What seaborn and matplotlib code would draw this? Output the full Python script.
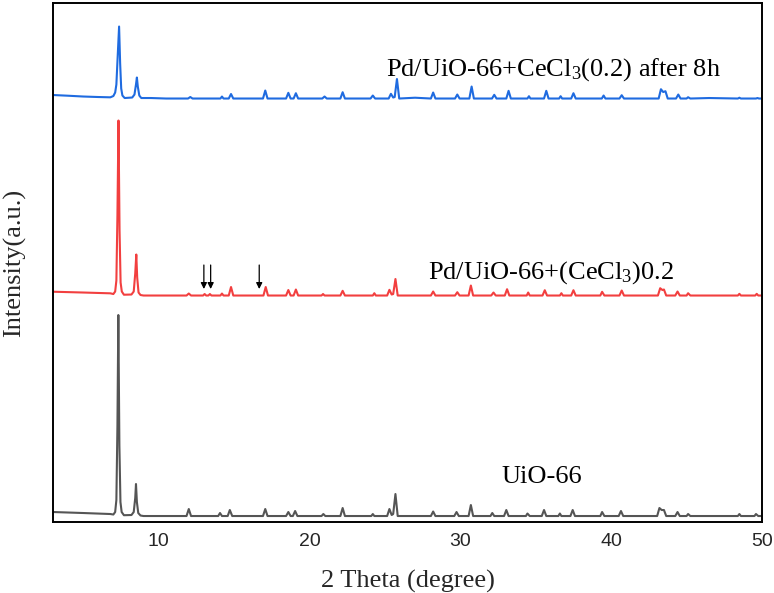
## XRD patterns, UiO-66 series, stacked with offsets
#   values

import matplotlib
matplotlib.use("Agg")
import matplotlib.pyplot as plt
from matplotlib.ticker import MultipleLocator
import seaborn as sns
import pandas as pd

    #----------------------------------------------------
    # DATA  (2theta in degree, intensity above own baseline, a.u.)
    #----------------------------------------------------

two_theta_uio = [3.0, 5.0, 6.8, 7.0, 7.12, 7.2, 7.27, 7.33, 7.4, 7.47, 7.55, 7.7,
                 8.2, 8.35, 8.45, 8.5, 8.56, 8.65, 8.8, 9.0,
                 11.85, 12.0, 12.15, 13.95, 14.07, 14.2, 14.58, 14.72, 14.88,
                 16.92, 17.07, 17.22, 18.45, 18.6, 18.75, 18.9, 19.05, 19.2,
                 20.8, 20.92, 21.05, 22.05, 22.2, 22.35, 24.1, 24.2, 24.3,
                 25.15, 25.3, 25.45, 25.55, 25.7, 25.85, 28.05, 28.2, 28.35,
                 29.6, 29.75, 29.9, 30.55, 30.7, 30.85, 32.0, 32.12, 32.25,
                 32.9, 33.05, 33.2, 34.35, 34.45, 34.6, 35.4, 35.55, 35.7,
                 36.5, 36.6, 36.7, 37.3, 37.45, 37.6, 39.28, 39.4, 39.55,
                 40.5, 40.65, 40.8, 43.05, 43.2, 43.35, 43.5, 43.65,
                 44.25, 44.4, 44.55, 45.0, 45.1, 45.25, 48.4, 48.5, 48.6,
                 49.5, 49.6, 49.75, 50.0]
intensity_uio = [4, 3, 2, 1.5, 4, 16, 90, 201, 70, 14, 4, 0.8,
                 1, 4, 18, 32, 14, 3, 0.5, 0,
                 0, 7, 0, 0, 3, 0, 0, 6, 0,
                 0, 7, 0, 0, 4, 0, 0, 5, 0,
                 0, 2, 0, 0, 8, 0, 0, 2, 0,
                 0, 7, 1, 2, 22, 0, 0, 4.5, 0,
                 0, 4, 0, 0, 11, 0, 0, 3, 0,
                 0, 6, 0, 0, 2.5, 0, 0, 6, 0,
                 0, 2.5, 0, 0, 6, 0, 0, 4, 0,
                 0, 5, 0, 0, 8, 6, 6, 0,
                 0, 4, 0, 0, 2, 0, 0, 2, 0,
                 0, 2, 0, 0]

two_theta_pd = [3.0, 5.0, 6.8, 7.0, 7.12, 7.2, 7.27, 7.34, 7.41, 7.48, 7.56, 7.7,
                8.2, 8.35, 8.45, 8.52, 8.58, 8.67, 8.8, 9.0,
                11.85, 12.0, 12.15, 12.95, 13.05, 13.15, 13.3, 13.4, 13.5,
                14.1, 14.2, 14.3, 14.65, 14.8, 14.95, 16.95, 17.1, 17.25,
                18.45, 18.6, 18.75, 18.95, 19.1, 19.25, 20.8, 20.9, 21.0,
                22.05, 22.2, 22.35, 24.2, 24.3, 24.4, 25.15, 25.3, 25.45,
                25.55, 25.7, 25.85, 28.05, 28.2, 28.35, 29.65, 29.8, 29.95,
                30.55, 30.7, 30.85, 32.05, 32.2, 32.35, 32.95, 33.1, 33.25,
                34.4, 34.5, 34.6, 35.45, 35.6, 35.75, 36.6, 36.7, 36.8,
                37.35, 37.5, 37.65, 39.28, 39.4, 39.55, 40.55, 40.7, 40.85,
                43.1, 43.25, 43.4, 43.5, 43.65, 44.25, 44.4, 44.55,
                45.0, 45.1, 45.25, 48.4, 48.5, 48.6, 49.55, 49.65, 49.75, 50.0]
intensity_pd = [3.8, 3, 2.2, 1.5, 4, 15, 80, 175, 65, 13, 4, 0.8,
                1, 4, 22, 41, 18, 3, 0.5, 0,
                0, 2, 0, 0, 1.5, 0, 0, 1.5, 0,
                0, 2, 0, 0, 8.5, 0, 0, 8.5, 0,
                0, 5.5, 0, 0, 6, 0, 0, 1.5, 0,
                0, 4.7, 0, 0, 2.3, 0, 0, 5.7, 1,
                1.5, 16.5, 0, 0, 4, 0, 0, 3.3, 0,
                0, 10, 0, 0, 3, 0, 0, 6.3, 0,
                0, 3, 0, 0, 5.3, 0, 0, 2.3, 0,
                0, 5.3, 0, 0, 3.7, 0, 0, 5, 0,
                0, 7.3, 5.5, 6, 0, 0, 4, 0,
                0, 2.3, 0, 0, 1.7, 0, 0, 1.7, 0, 0]

two_theta_after = [3.0, 4.0, 5.0, 6.0, 6.8, 7.0, 7.12, 7.2, 7.28, 7.38, 7.45, 7.52, 7.6, 7.75,
                   8.25, 8.4, 8.5, 8.56, 8.62, 8.72, 8.85, 9.5,
                   10.5, 11.95, 12.1, 12.25, 14.1, 14.2, 14.3, 14.65, 14.8, 14.95,
                   16.92, 17.07, 17.22, 18.45, 18.6, 18.75, 18.95, 19.1, 19.25,
                   20.85, 21.0, 21.15, 22.05, 22.2, 22.35, 24.05, 24.2, 24.35,
                   25.25, 25.4, 25.55, 25.65, 25.8, 25.95, 27.0, 28.05, 28.2, 28.35,
                   29.65, 29.8, 29.95, 30.6, 30.75, 30.9, 32.1, 32.25, 32.4,
                   33.05, 33.2, 33.35, 34.45, 34.55, 34.65, 35.55, 35.7, 35.85,
                   36.55, 36.65, 36.75, 37.35, 37.5, 37.65, 39.38, 39.5, 39.62,
                   40.55, 40.7, 40.85, 43.15, 43.3, 43.45, 43.6, 43.75,
                   44.3, 44.45, 44.6, 45.0, 45.1, 45.25, 46.5, 48.4, 48.5, 48.6,
                   49.6, 49.7, 49.8, 50.0]
intensity_after = [3.5, 2.8, 2, 1.5, 1.2, 2.5, 6, 14, 40, 72, 35, 10, 3, 0.5,
                   1, 4, 14, 21, 12, 3, 0.5, 0.5,
                   0, 0, 1.5, 0, 0, 2, 0, 0, 4.5, 0,
                   0, 8, 0, 0, 5.7, 0, 0, 5.3, 0,
                   0, 2, 0, 0, 6.3, 0, 0, 3, 0,
                   0, 4.7, 1, 1.5, 19.5, 0, 0.8, 0, 6, 0,
                   0, 4, 0, 0, 12, 0, 0, 3.7, 0,
                   0, 7.7, 0, 0, 2.3, 0, 0, 7.7, 0,
                   0, 2.3, 0, 0, 5.3, 0, 0, 3, 0,
                   0, 3.3, 0, 0, 9.3, 6.5, 7.3, 0,
                   0, 4, 0, 0, 1.3, 0, 0.5, 0, 0.8, 0,
                   0, 0.5, 0, 0]

sample_names = ["UiO-66", "Pd/UiO-66+(CeCl3)0.2", "Pd/UiO-66+CeCl3(0.2) after 8h"]
label_texts = ["UiO-66", r"Pd/UiO-66+(CeCl$_3$)0.2", r"Pd/UiO-66+CeCl$_3$(0.2) after 8h"]
# new phase reflections marked on the Pd sample
arrow_positions = [13.0, 13.45, 16.67]

    #----------------------------------------------------
    # STYLE
    #----------------------------------------------------

line_colors = ["#555555", "#F23F3F", "#1F6BE0"]
offsets = [6, 226.5, 423.5]
label_x = [35.4, 36.0, 36.2]
label_y = [39, 243, 446]


def build_frame():
    frames = []
    all_x = [two_theta_uio, two_theta_pd, two_theta_after]
    all_y = [intensity_uio, intensity_pd, intensity_after]
    for name, xs, ys, off in zip(sample_names, all_x, all_y, offsets):
        df = pd.DataFrame({"two_theta": xs, "intensity": ys})
        df["shifted"] = df["intensity"] + off
        df["sample"] = name
        frames.append(df)
    return pd.concat(frames, ignore_index=True)


def main():
    sns.set_style("white")
    plt.rcParams["font.family"] = ["Liberation Serif", "DejaVu Serif"]
    plt.rcParams["mathtext.fontset"] = "custom"
    plt.rcParams["mathtext.rm"] = "Liberation Serif"
    plt.rcParams["mathtext.it"] = "Liberation Serif:italic"

    data = build_frame()

    fig = plt.figure(figsize=(7.74, 5.93), dpi=100)
    ax = fig.add_axes([0.0685, 0.1197, 0.916, 0.8752])

    sns.lineplot(data=data, x="two_theta", y="shifted", hue="sample",
                 hue_order=sample_names, palette=line_colors,
                 estimator=None, sort=False, linewidth=1.5, legend=False, ax=ax)

    for txt, x, y in zip(label_texts, label_x, label_y):
        ax.text(x, y, txt, ha="center", va="baseline", fontsize=19, color="black")

    for x in arrow_positions:
        ax.annotate("", xy=(x, 233), xytext=(x, 257),
                    arrowprops=dict(arrowstyle="-|>", color="black", lw=0.9,
                                    mutation_scale=9, shrinkA=0, shrinkB=0))

    ax.set_xlim(3, 50)
    ax.set_ylim(0, 519)
    ax.set_yticks([])
    ax.xaxis.set_major_locator(MultipleLocator(10))
    ax.xaxis.set_minor_locator(MultipleLocator(5))
    ax.tick_params(axis="x", which="major", direction="in", length=4, width=1.2, pad=8,
                   labelsize=14, labelfontfamily="Liberation Sans")
    ax.tick_params(axis="x", which="minor", direction="in", length=2.5, width=1.0)

    for side in ["left", "right", "top", "bottom"]:
        ax.spines[side].set_visible(True)
        ax.spines[side].set_color("black")
        ax.spines[side].set_linewidth(1.4)

    ax.set_xlabel("2 Theta (degree)", fontsize=19, labelpad=14)
    ax.set_ylabel("Intensity(a.u.)", fontsize=19)
    ax.yaxis.set_label_coords(-0.038, 0.5)

    fig.savefig("out.png", dpi=100)


if __name__ == '__main__':
    main()
